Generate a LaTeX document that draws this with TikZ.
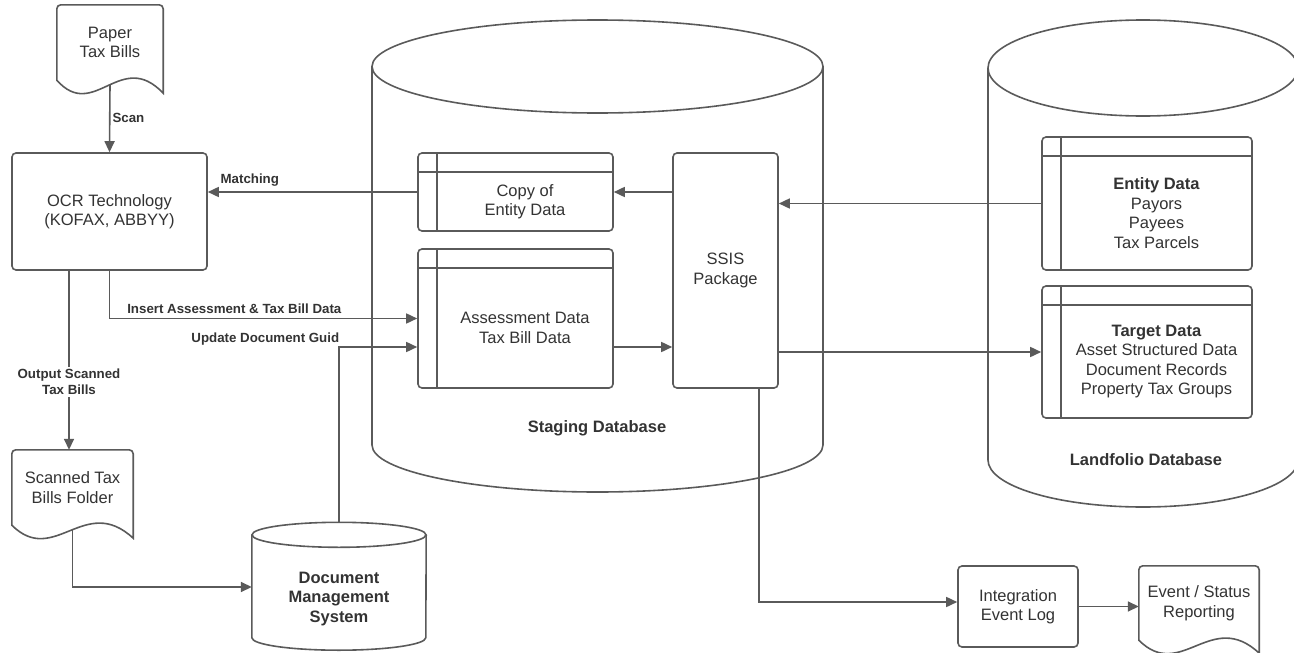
\documentclass[tikz,border=0pt]{standalone}
\usepackage{fontspec}
\setmainfont{Liberation Sans}
\usetikzlibrary{arrows.meta,calc}

\definecolor{linegrey}{HTML}{5A5A5A}
\definecolor{textgrey}{HTML}{333333}

\tikzset{
  shell/.style={draw=linegrey, line width=1.6pt},
  box/.style={shell, rounded corners=4pt, fill=white, text=textgrey, align=center,
    inner sep=0pt, font=\fontsize{16.5}{19.5}\selectfont},
  tablebox/.style={box,
    path picture={
      \draw[linegrey, line width=1.6pt] ([yshift=-19pt]path picture bounding box.north west) -- ([yshift=-19pt]path picture bounding box.north east);
      \draw[linegrey, line width=1.6pt] ([xshift=19pt]path picture bounding box.north west) -- ([xshift=19pt]path picture bounding box.south west);
    },
    label={[xshift=9.5pt, yshift=-9.5pt, align=center, text=textgrey,
      font=\fontsize{16.5}{19.5}\selectfont]center:#1}},
  doc/.style={text=textgrey, align=center, inner sep=0pt, font=\fontsize{16.5}{19.5}\selectfont},
  dbname/.style={text=textgrey, font=\bfseries\fontsize{16.5}{19.5}\selectfont},
  lbl/.style={text=textgrey, align=center, inner sep=2pt, font=\bfseries\fontsize{13.3}{16}\selectfont},
  flow/.style={shell, -{Triangle[length=11pt, width=10pt]}},
}

% document outline with a wavy bottom edge
\newcommand{\docline}[1]{%
  \draw[shell] (#1.south west) [rounded corners=4pt] -- (#1.north west) -- (#1.north east)
    [sharp corners] -- ([yshift=-13pt]#1.south east)
    .. controls ($(#1.south west)!0.6!(#1.south east)+(0pt,32pt)$)
    and ($(#1.south west)!0.35!(#1.south east)+(0pt,-42pt)$) .. (#1.south west) -- cycle;}

\begin{document}
\begin{tikzpicture}[x=1pt, y=-1pt]
  \useasboundingbox (0,0) rectangle (1294,653);

  % databases
  \draw[shell] (597.5,66.5) ellipse [x radius=225.5pt, y radius=46.5pt];
  \draw[shell] (372,66.5) -- (372,445) arc [start angle=180, end angle=360, x radius=225.5pt, y radius=47pt] -- (823,66.5);
  \node[dbname] (staging) at (597,428) {Staging Database};

  \draw[shell] (1143,68) ellipse [x radius=155pt, y radius=48pt];
  \draw[shell] (988,68) -- (988,460) arc [start angle=180, end angle=360, x radius=155pt, y radius=47pt] -- (1298,68);
  \node[dbname] (landfolio) at (1146,460) {Landfolio Database};

  % nodes
  \node[doc, minimum width=106pt, minimum height=75pt] (paper) at (110,42.5) {Paper\\Tax Bills};
  \node[box, minimum width=195pt, minimum height=117pt] (ocr) at (109.5,211.5) {OCR Technology\\(KOFAX, ABBYY)};
  \node[doc, minimum width=121pt, minimum height=75pt] (folder) at (72.5,487.5) {Scanned Tax\\Bills Folder};
  \node[doc, font=\bfseries\fontsize{16.5}{19.5}\selectfont, minimum width=174pt, minimum height=102.5pt] (dms) at (339,598.75) {Document\\Management\\System};

  \node[tablebox={Copy of\\Entity Data}, minimum width=195pt, minimum height=78pt] (copy) at (515.5,192) {};
  \node[tablebox={Assessment Data\\Tax Bill Data}, minimum width=195pt, minimum height=139pt] (assess) at (515.5,318.5) {};
  \node[box, minimum width=105pt, minimum height=235pt] (ssis) at (725.5,270.5) {SSIS\\Package};

  \node[tablebox={\textbf{Entity Data}\\Payors\\Payees\\Tax Parcels}, minimum width=210pt, minimum height=133pt] (entity) at (1147,203.5) {};
  \node[tablebox={\textbf{Target Data}\\Asset Structured Data\\Document Records\\Property Tax Groups}, minimum width=210pt, minimum height=132pt] (target) at (1147,352) {};

  \node[box, minimum width=120pt, minimum height=81pt] (intlog) at (1018,606.5) {Integration\\Event Log};
  \node[doc, minimum width=120pt, minimum height=74pt] (report) at (1199,603) {Event / Status\\Reporting};

  \docline{paper}
  \docline{folder}
  \docline{report}
  \draw[shell] ([yshift=12.5pt]dms.north) ellipse [x radius=87pt, y radius=12.5pt];
  \draw[shell] ([yshift=12.5pt]dms.north west) -- ([yshift=12.5pt]dms.south west)
    arc [start angle=180, end angle=360, x radius=87pt, y radius=12.5pt] -- ([yshift=12.5pt]dms.north east);

  % connectors
  \coordinate (aout) at ([yshift=-28.5pt]assess.east);
  \draw[flow] ([yshift=-4pt]paper.south) -- (ocr.north) node[lbl, midway, right] {Scan};
  \draw[flow] (copy.west) -- (copy.west -| ocr.east) node[lbl, pos=1, anchor=south west, xshift=10pt, yshift=3pt] {Matching};
  \draw[flow] (ocr.south) |- (assess.west) node[lbl, pos=0.5, anchor=south west, xshift=15pt, yshift=2pt] {Insert Assessment \& Tax Bill Data};
  \draw[flow] ([yshift=25pt]dms.north) |- ([yshift=-28.5pt]assess.west) node[lbl, pos=0.5, anchor=south east, xshift=3pt, yshift=-1pt] {Update Document Guid};
  \draw[flow] ([xshift=-40.5pt]ocr.south) -- ([xshift=-40.5pt]ocr.south |- folder.north) node[lbl, pos=0.62, fill=white] {Output Scanned\\Tax Bills};
  \draw[flow] ([yshift=-4pt]folder.south) |- ([yshift=11.75pt]dms.west);
  \draw[flow] (ssis.west |- copy.east) -- (copy.east);
  \draw[flow] (entity.west) -- (ssis.east |- entity.west);
  \draw[flow] (aout) -- (aout -| ssis.west);
  \draw[flow] (ssis.east |- target.west) -- (target.west);
  \draw[flow] ([xshift=33.5pt]ssis.south) |- ([yshift=4.5pt]intlog.west);
  \draw[flow] (intlog.east) -- (intlog.east -| report.west);
\end{tikzpicture}
\end{document}
